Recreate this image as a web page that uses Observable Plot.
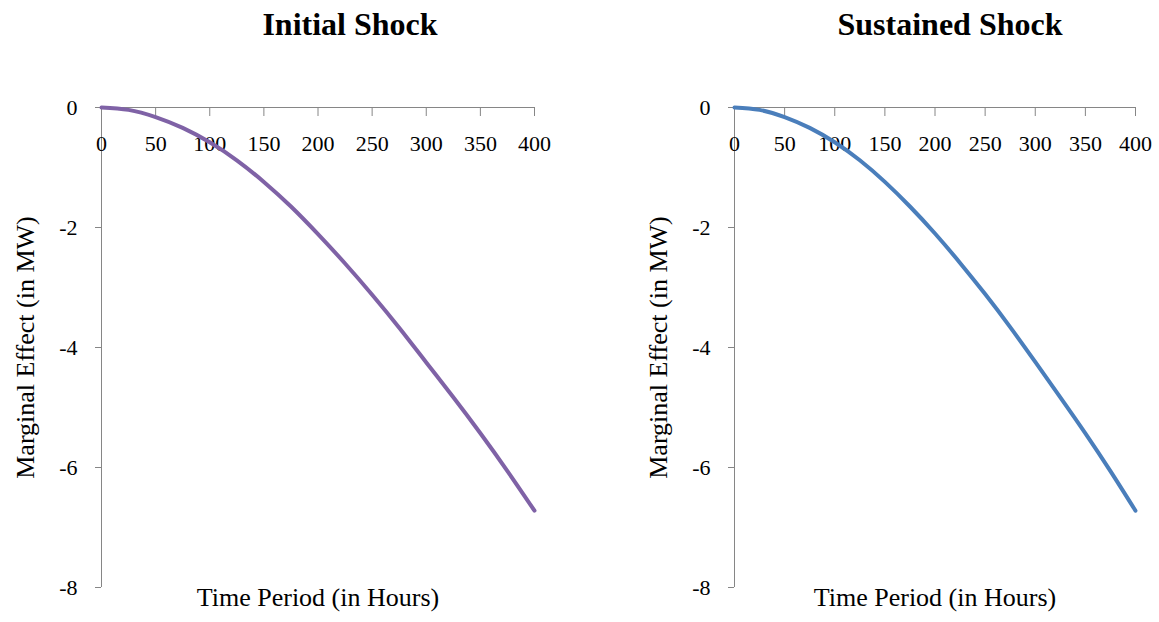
<!DOCTYPE html>
<html>
<head>
<meta charset="utf-8">
<script src="https://cdn.jsdelivr.net/npm/d3@7"></script>
<script src="https://cdn.jsdelivr.net/npm/@observablehq/plot@0.6"></script>
<style>
  body { margin: 0; background: #fff; }
  #chart { position: relative; width: 1159px; height: 622px; font-family: "Liberation Serif", "Times New Roman", serif; color: #000; }
  .title { position: absolute; top: 8px; font-size: 32px; font-weight: bold; line-height: 32px; transform: translateX(-50%); white-space: nowrap; }
  .panel { position: absolute; top: 60px; }
</style>
</head>
<body>
<div id="chart"></div>
<script>
// Time axis (hours) and the estimated marginal effect of each shock (MW)
const hours = [0, 25, 50, 75, 100, 125, 150, 175, 200, 225, 250, 275, 300, 325, 350, 375, 400];
const initialShock = [0, -0.04, -0.16, -0.34, -0.58, -0.88, -1.24, -1.65, -2.11, -2.60, -3.12, -3.67, -4.25, -4.83, -5.43, -6.06, -6.72];
const sustainedShock = [0, -0.04, -0.16, -0.34, -0.58, -0.88, -1.24, -1.65, -2.10, -2.59, -3.11, -3.66, -4.24, -4.83, -5.43, -6.06, -6.72];

const xTicks = [0, 50, 100, 150, 200, 250, 300, 350, 400];
const yTicks = [0, -2, -4, -6, -8];

const panelTitles = ["Initial Shock", "Sustained Shock"];
const xLabel = "Time Period (in Hours)";
const yLabel = "Marginal Effect (in MW)";
const lineColors = ["#7f62a6", "#4a7ebb"];

const axisGray = "#868686";
const serif = "Liberation Serif";

function panel(values, color, {width, marginLeft, marginRight}) {
  const data = hours.map((h, i) => ({hour: h, effect: values[i]}));
  return Plot.plot({
    width,
    height: 562,
    marginLeft,
    marginRight,
    marginTop: 47,
    marginBottom: 35,
    style: {fontFamily: serif, fontSize: "22px", color: "#000", background: "transparent", overflow: "visible"},
    x: {domain: [0, 400], axis: null},
    y: {domain: [-8, 0], axis: null},
    marks: [
      // vertical axis with outward ticks and labels
      Plot.ruleX([0], {stroke: axisGray}),
      Plot.ruleY(yTicks, {y: d => d, x1: 0, x2: 0, insetLeft: -6, stroke: axisGray}),
      Plot.text(yTicks, {x: 0, y: d => d, text: d => String(d), dx: -24, textAnchor: "end", fontSize: 22, fontFamily: serif, fill: "#000"}),
      // horizontal axis drawn along the zero line, ticks hanging below it
      Plot.ruleY([0], {stroke: axisGray}),
      Plot.ruleX(xTicks, {x: d => d, y1: 0, y2: 0, insetBottom: -9, stroke: axisGray}),
      Plot.text(xTicks, {x: d => d, y: 0, dy: 36, text: d => String(d), fontSize: 22, fontFamily: serif, fill: "#000"}),
      // response curve
      Plot.line(data, {x: "hour", y: "effect", stroke: color, strokeWidth: 4, curve: "natural"}),
      // axis titles
      Plot.text([xLabel], {text: d => d, frameAnchor: "bottom", dy: 18, fontSize: 26, fontFamily: serif, fill: "#000"}),
      Plot.text([yLabel], {text: d => d, frameAnchor: "left", textAnchor: "middle", dx: -76, rotate: -90, fontSize: 26, fontFamily: serif, fill: "#000"})
    ]
  });
}

const chart = document.getElementById("chart");

const layouts = [
  {left: 0, width: 580, marginLeft: 101, marginRight: 46, titleCenter: 350},
  {left: 580, width: 579, marginLeft: 154, marginRight: 24, titleCenter: 950}
];
const series = [initialShock, sustainedShock];

layouts.forEach((L, i) => {
  const title = document.createElement("div");
  title.className = "title";
  title.style.left = L.titleCenter + "px";
  title.textContent = panelTitles[i];
  chart.appendChild(title);

  const wrap = document.createElement("div");
  wrap.className = "panel";
  wrap.style.left = L.left + "px";
  wrap.appendChild(panel(series[i], lineColors[i], L));
  chart.appendChild(wrap);
});
</script>
</body>
</html>
